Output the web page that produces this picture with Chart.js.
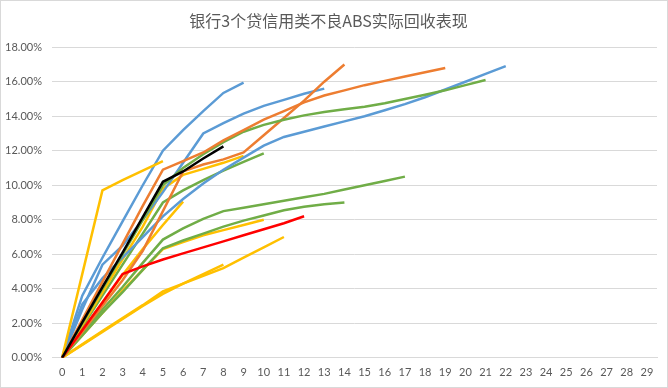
<!DOCTYPE html>
<html>
<head>
<meta charset="utf-8">
<script src="https://cdn.jsdelivr.net/npm/chart.js@4/dist/chart.umd.min.js"></script>
<style>
  html, body { margin: 0; padding: 0; background: #fff; }
  #wrap { width: 668px; height: 388px; position: relative; }
</style>
</head>
<body>
<div id="wrap"><canvas id="c" width="668" height="388"></canvas></div>
<script>
// Categories (months since issue)
const categories = ['0','1','2','3','4','5','6','7','8','9','10','11','12','13','14','15','16','17','18','19','20','21','22','23','24','25','26','27','28','29'];

// Cumulative recovery rate (%) per deal
const blackDeal  = [0, 2.05, 4.1, 6.1, 8.15, 10.2, 10.8, 11.55, 12.25];
const redDeal    = [0, 1.6, 3.2, 4.85, 5.3, 5.7, 6.05, 6.4, 6.75, 7.1, 7.45, 7.8, 8.2];

const blue1 = [0, 3.6, 5.8, 7.9, 10.0, 12.0, 13.2, 14.3, 15.35, 15.95];
const blue2 = [0, 3.1, 4.6, 5.8, 7.0, 8.2, 9.2, 10.1, 10.9, 11.6, 12.3, 12.8, 13.1, 13.4, 13.7, 14.0, 14.35, 14.7, 15.1, 15.55, 16.0, 16.45, 16.9];
const blue3 = [0, 2.8, 5.4, 6.5, 8.0, 9.6, 11.3, 13.0, 13.6, 14.15, 14.6, 14.95, 15.3, 15.6];

const orange1 = [0, 1.5, 3.0, 4.5, 6.2, 8.5, 10.8, 11.2, 11.5, 11.9, 12.9, 13.9, 14.9, 16.0, 17.0];
const orange2 = [0, 2.2, 4.4, 6.6, 8.8, 10.9, 11.4, 11.9, 12.6, 13.2, 13.8, 14.3, 14.8, 15.2, 15.5, 15.8, 16.05, 16.3, 16.55, 16.8];

const yellow1 = [0, 4.85, 9.7, 10.3, 10.85, 11.4];
const yellow2 = [0, 0.75, 1.5, 2.25, 3.0, 3.7, 4.3, 4.85, 5.4];
const yellow3 = [0, 0.78, 1.55, 2.3, 3.05, 3.85, 4.3, 4.75, 5.2, 5.8, 6.4, 7.0];
const yellow4 = [0, 1.6, 3.2, 4.8, 6.3, 7.7, 9.05];
const yellow5 = [0, 1.3, 2.6, 3.9, 5.1, 6.3, 6.7, 7.1, 7.4, 7.7, 8.0];
const yellow6 = [0, 1.9, 3.8, 5.7, 7.6, 9.8, 10.6, 10.95, 11.3, 11.7];

const green1 = [0, 2.0, 4.0, 6.0, 8.0, 10.0, 11.0, 11.8, 12.5, 13.1, 13.5, 13.8, 14.05, 14.25, 14.4, 14.55, 14.75, 15.0, 15.25, 15.5, 15.8, 16.1];
const green2 = [0, 1.8, 3.6, 5.4, 7.2, 9.0, 9.7, 10.3, 10.85, 11.35, 11.85];
const green3 = [0, 1.4, 2.8, 4.1, 5.5, 6.85, 7.5, 8.05, 8.5, 8.7, 8.9, 9.1, 9.3, 9.5, 9.75, 10.0, 10.25, 10.5];
const green4 = [0, 1.3, 2.6, 3.8, 5.1, 6.35, 6.8, 7.2, 7.6, 7.95, 8.25, 8.55, 8.75, 8.9, 9.0];

const titleText = '银行3个贷信用类不良ABS实际回收表现';

const BLUE = '#5B9BD5', ORANGE = '#ED7D31', YELLOW = '#FFC000', GREEN = '#70AD47', RED = '#FF0000', BLACK = '#000000';

function ds(data, color) {
  return { data: data, borderColor: color, backgroundColor: color, borderWidth: 2.5, pointRadius: 0, pointHoverRadius: 0, tension: 0, fill: false };
}

const datasets = [
  ds(blackDeal, BLACK),
  ds(redDeal, RED),
  ds(yellow1, YELLOW),
  ds(blue1, BLUE),
  ds(orange2, ORANGE),
  ds(green1, GREEN),
  ds(orange1, ORANGE),
  ds(blue3, BLUE),
  ds(blue2, BLUE),
  ds(yellow6, YELLOW),
  ds(green2, GREEN),
  ds(yellow4, YELLOW),
  ds(green3, GREEN),
  ds(green4, GREEN),
  ds(yellow5, YELLOW),
  ds(yellow3, YELLOW),
  ds(yellow2, YELLOW)
];

const borderPlugin = {
  id: 'chartBorder',
  beforeDraw(chart) {
    const ctx = chart.ctx;
    ctx.save();
    ctx.fillStyle = '#fff';
    ctx.fillRect(0, 0, chart.width, chart.height);
    ctx.strokeStyle = '#D9D9D9';
    ctx.lineWidth = 1;
    ctx.strokeRect(0.5, 0.5, chart.width - 1, chart.height - 1);
    ctx.restore();
  }
};

new Chart(document.getElementById('c'), {
  type: 'line',
  data: { labels: categories, datasets: datasets },
  options: {
    responsive: false,
    animation: false,
    devicePixelRatio: 1,
    layout: { padding: { left: 0, right: 11, top: 0, bottom: 1 } },
    plugins: {
      legend: { display: false },
      tooltip: { enabled: false },
      title: {
        display: true,
        text: titleText,
        color: '#595959',
        font: { family: '"Noto Sans CJK SC", sans-serif', size: 16, weight: 'normal' },
        padding: { top: 11, bottom: 17 }
      }
    },
    scales: {
      x: {
        type: 'category',
        offset: true,
        grid: { display: false, drawTicks: false },
        border: { display: true, color: '#D9D9D9', width: 1 },
        ticks: { color: '#595959', font: { family: 'Lato, sans-serif', size: 11 }, padding: 8, maxRotation: 0, autoSkip: false }
      },
      y: {
        min: 0, max: 18,
        grid: { color: '#D9D9D9', lineWidth: 1, drawTicks: false },
        border: { display: false },
        ticks: {
          stepSize: 2,
          color: '#595959',
          font: { family: 'Lato, sans-serif', size: 11 },
          padding: 10,
          callback: v => v.toFixed(2) + '%'
        },
        afterFit(scale) { scale.width = 52; }
      }
    }
  },
  plugins: [borderPlugin]
});
</script>
</body>
</html>
